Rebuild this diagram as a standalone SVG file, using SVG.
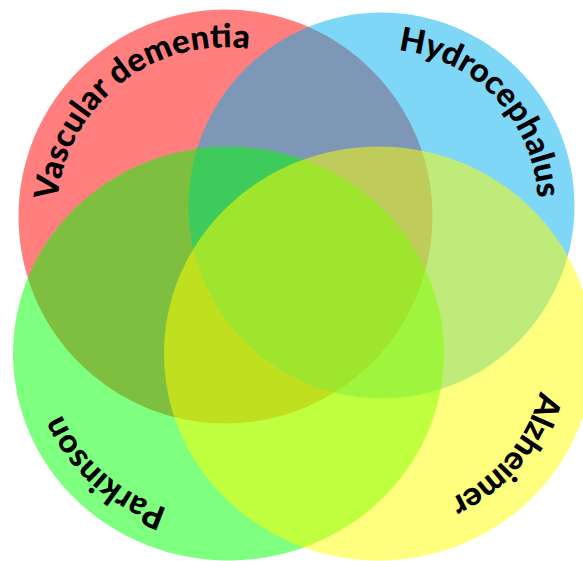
<svg xmlns="http://www.w3.org/2000/svg" width="583" height="561" viewBox="0 0 583 561">
  <style>
    .set { fill-opacity: 0.5; stroke: none; }
    .lbl { font-family: Lato, "Open Sans", "Liberation Sans", sans-serif; font-weight: 900; font-size: 33px; fill: #000; }
  </style>
  <defs>
    <path id="pRed" d="M 84.25 309.3 A 169 169 0 0 1 348.5 100.6"/>
    <path id="pBlue" d="M 284.8 83.1 A 156 156 0 0 1 498.0 309.3"/>
    <path id="pGreen" d="M 341.5 481.9 A 180 165 0 0 1 92.9 245.0"/>
    <path id="pYellow" d="M 492.5 236.5 A 166 161 0 0 1 287.2 488.0"/>
  </defs>
  <rect width="583" height="561" fill="#fff"/>
  <g id="vascular-dementia">
    <circle class="set" cx="225.5" cy="216.5" r="207" fill="#FF0000"/>
  </g>
  <g id="hydrocephalus">
    <circle class="set" cx="381.5" cy="205.5" r="193" fill="#00B0F0"/>
  </g>
  <g id="parkinson">
    <ellipse class="set" cx="228.5" cy="353.5" rx="215.5" ry="207" fill="#00FF00"/>
  </g>
  <g id="alzheimer">
    <ellipse class="set" cx="378.5" cy="353.5" rx="214.5" ry="207" fill="#FFFF00"/>
  </g>
  <g id="labels">
    <text class="lbl"><textPath href="#pRed" startOffset="50%" text-anchor="middle" textLength="273" lengthAdjust="spacing">Vascular dementia</textPath></text>
    <text class="lbl"><textPath href="#pBlue" startOffset="50%" text-anchor="middle" textLength="221" lengthAdjust="spacing">Hydrocephalus</textPath></text>
    <text class="lbl"><textPath href="#pGreen" startOffset="50%" text-anchor="middle" textLength="146" lengthAdjust="spacing">Parkinson</textPath></text>
    <text class="lbl"><textPath href="#pYellow" startOffset="50%" text-anchor="middle" textLength="145" lengthAdjust="spacing">Alzheimer</textPath></text>
  </g>
  <g id="connectors"/>
</svg>
